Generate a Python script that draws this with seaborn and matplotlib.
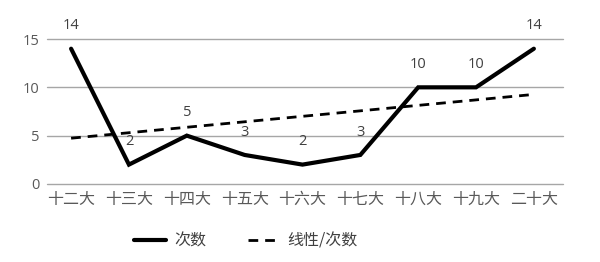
import matplotlib
matplotlib.use("Agg")
import matplotlib.pyplot as plt
import seaborn as sns
import numpy as np
import pandas as pd
from matplotlib.lines import Line2D

categories = ["十二大", "十三大", "十四大", "十五大", "十六大", "十七大", "十八大", "十九大", "二十大"]
counts = [14, 2, 5, 3, 2, 3, 10, 10, 14]
yticks = [0, 5, 10, 15]

sns.set_theme(style="white")
plt.rcParams['font.family'] = ['Noto Sans CJK SC', 'DejaVu Sans']
num_font = ['Open Sans', 'DejaVu Sans']

df = pd.DataFrame({"idx": np.arange(len(categories)), "cat": categories, "count": counts})

fig = plt.figure(figsize=(6, 2.62), dpi=100)
ax = fig.add_axes([0.078, 0.298, 0.86, 0.553])

for y in yticks:
    ax.axhline(y, color="#a6a6a6", lw=1.0, zorder=0, clip_on=False)

sns.lineplot(data=df, x="idx", y="count", ax=ax, color="black", lw=3.0, zorder=3,
             solid_joinstyle="miter")
sns.regplot(data=df, x="idx", y="count", ax=ax, scatter=False, ci=None, truncate=True,
            line_kws=dict(color="black", lw=2.0, ls=(0, (3.5, 2.5)), zorder=2))

for i, v in enumerate(counts):
    ax.annotate(str(v), (i, v), xytext=(0, 11), textcoords="offset points",
                ha="center", va="bottom", fontsize=10.5, color="#404040",
                family=num_font, annotation_clip=False)

ax.set_xlim(-0.42, 8.5)
ax.set_ylim(0, 15)
ax.set_xticks(range(len(categories)))
ax.set_xticklabels(categories, fontsize=11.5, color="#595959")
ax.set_yticks(yticks)
ax.set_yticklabels([str(t) for t in yticks], fontsize=10.5, color="#595959", family=num_font)
ax.tick_params(axis="both", length=0, pad=5)
ax.set_xlabel("")
ax.set_ylabel("")
for s in ax.spines.values():
    s.set_visible(False)

handles = [Line2D([], [], color="black", lw=3.0),
           Line2D([], [], color="black", lw=2.0, ls=(0, (3.5, 2.5)))]
fig.legend(handles, ["次数", "线性/次数"], loc="center", bbox_to_anchor=(0.41, 0.08),
           ncol=2, frameon=False, fontsize=11.5, handlelength=2.0, columnspacing=2.6,
           handletextpad=0.5, labelcolor="#404040")

fig.savefig("out.png", dpi=100, facecolor="white")
